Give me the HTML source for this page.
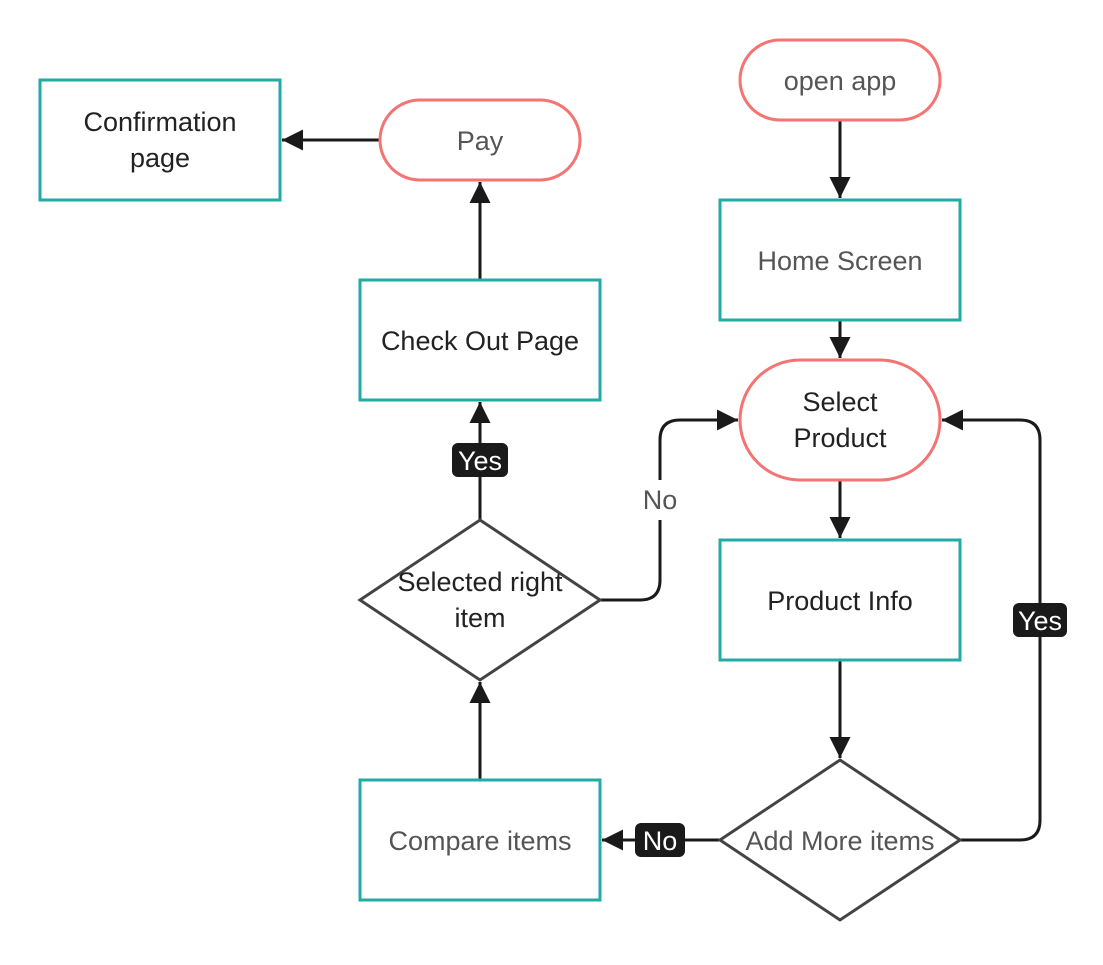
<!DOCTYPE html>
<html><head><meta charset="utf-8"><style>
body{margin:0;background:#fff}
svg text{font-family:"Liberation Sans",sans-serif;font-size:27px;text-anchor:middle;dominant-baseline:central}
</style></head><body>
<svg width="1103" height="960" viewBox="0 0 1103 960" xmlns="http://www.w3.org/2000/svg">
<defs><marker id="a" markerWidth="8" markerHeight="8" refX="7" refY="4" orient="auto" markerUnits="strokeWidth"><path d="M0,0.5 L7,4 L0,7.5 Z" fill="#1a1a1a"/></marker></defs>
<g fill="none" stroke="#1a1a1a" stroke-width="3">
<path d="M380,140 H282" marker-end="url(#a)"/>
<path d="M480,280 V182" marker-end="url(#a)"/>
<path d="M480,520 V402" marker-end="url(#a)"/>
<path d="M480,780 V682" marker-end="url(#a)"/>
<path d="M840,120 V198" marker-end="url(#a)"/>
<path d="M840,320 V358" marker-end="url(#a)"/>
<path d="M840,480 V538" marker-end="url(#a)"/>
<path d="M840,660 V758" marker-end="url(#a)"/>
<path d="M720,840 H602" marker-end="url(#a)"/>
<path d="M600,600 H640 Q660,600 660,580 V440 Q660,420 680,420 H738" marker-end="url(#a)"/>
<path d="M960,840 H1020 Q1040,840 1040,820 V440 Q1040,420 1020,420 H942" marker-end="url(#a)"/>
</g>
<g fill="#fff" stroke="#20aba5" stroke-width="3">
<rect x="40" y="80" width="240" height="120"/>
<rect x="360" y="280" width="240" height="120"/>
<rect x="720" y="200" width="240" height="120"/>
<rect x="720" y="540" width="240" height="120"/>
<rect x="360" y="780" width="240" height="120"/>
</g>
<g fill="#fff" stroke="#f47373" stroke-width="3">
<rect x="380" y="100" width="200" height="80" rx="40"/>
<rect x="740" y="40" width="200" height="80" rx="40"/>
<rect x="740" y="360" width="200" height="120" rx="60"/>
</g>
<g fill="#fff" stroke="#444" stroke-width="3">
<path d="M480,520 L600,600 L480,680 L360,600 Z"/>
<path d="M840,760 L960,840 L840,920 L720,840 Z"/>
</g>
<rect x="645" y="480" width="30" height="40" fill="#fff"/>
<g fill="#1a1a1a">
<rect x="452" y="443" width="56" height="34" rx="6"/>
<rect x="1013" y="603" width="54" height="34" rx="6"/>
<rect x="635" y="823" width="50" height="34" rx="6"/>
</g>
<g fill="#fff" style="font-size:25px">
<text x="480" y="461">Yes</text><text x="1040" y="621">Yes</text><text x="660" y="841">No</text>
</g>
<g fill="#222">
<text x="160" y="122">Confirmation</text><text x="160" y="158">page</text>
<text x="480" y="341">Check Out Page</text>
<text x="840" y="601">Product Info</text>
<text x="480" y="582">Selected right</text><text x="480" y="618">item</text>
<text x="840" y="402">Select</text><text x="840" y="438">Product</text>
</g>
<g fill="#555">
<text x="480" y="141">Pay</text>
<text x="840" y="81">open app</text>
<text x="840" y="261">Home Screen</text>
<text x="480" y="841">Compare items</text>
<text x="840" y="841">Add More items</text>
<text x="660" y="500">No</text>
</g>
</svg>
</body></html>
